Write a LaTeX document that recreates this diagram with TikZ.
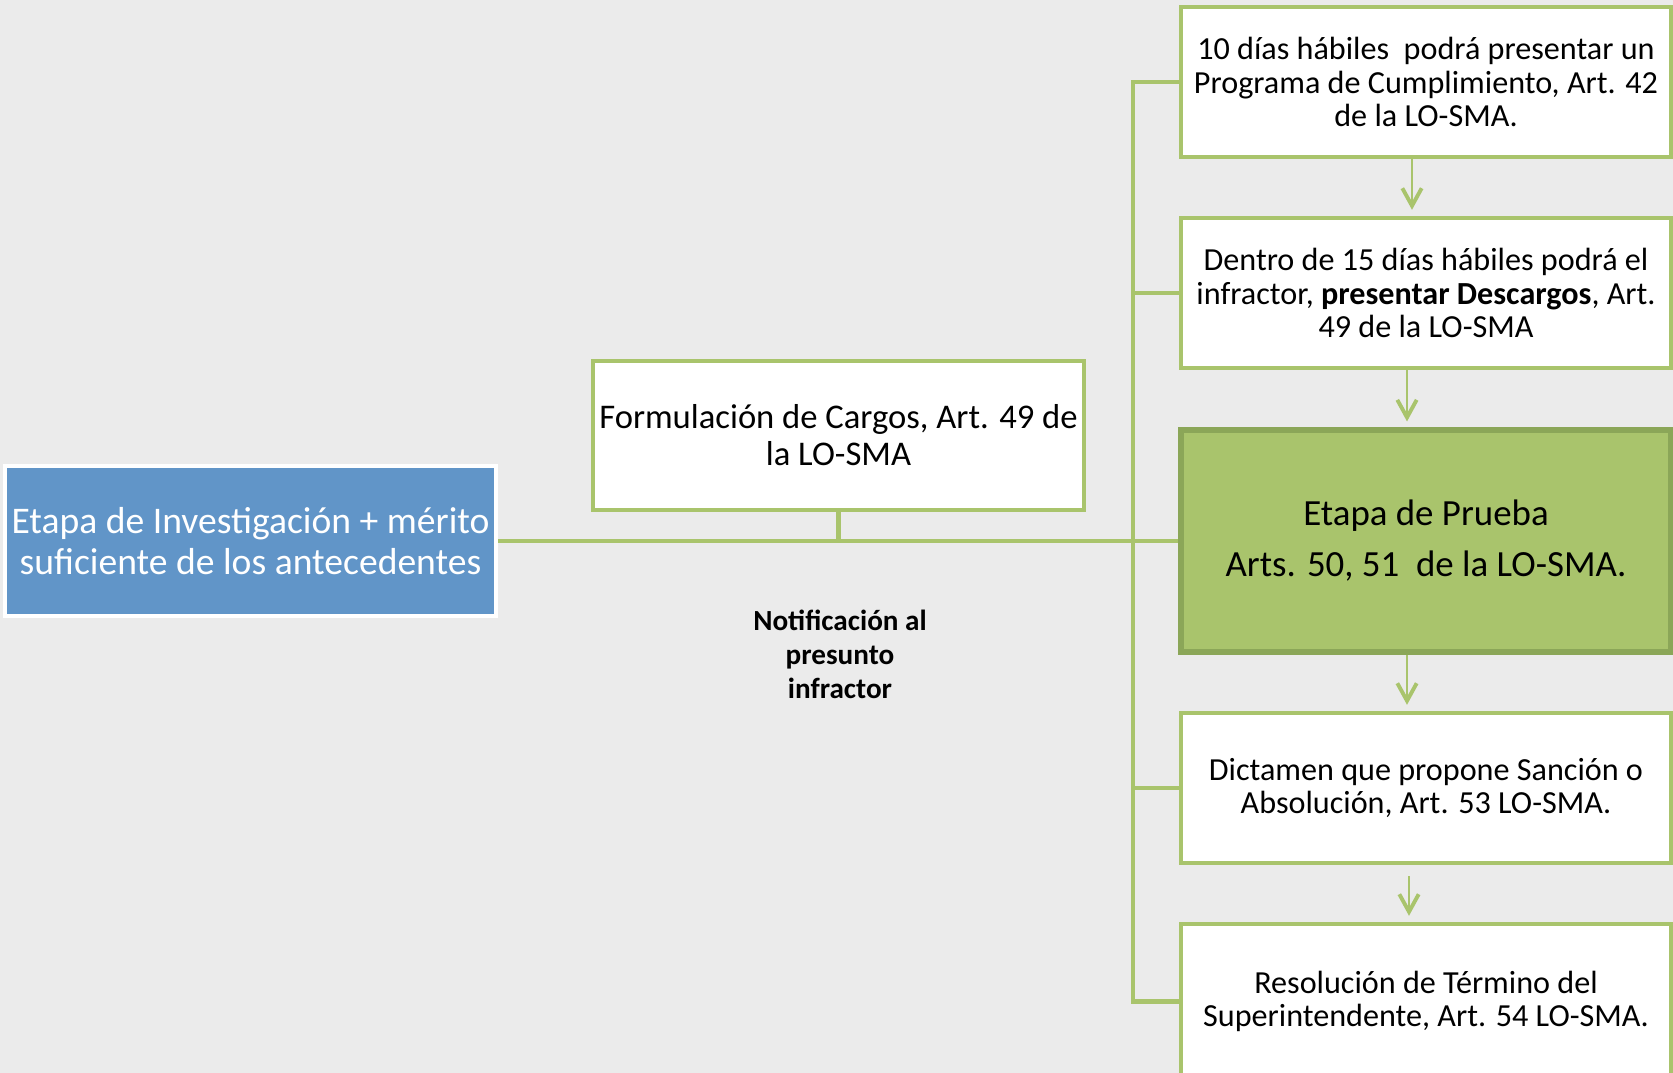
\documentclass[tikz,border=0pt]{standalone}
\usepackage{fontspec}
\setmainfont{Carlito}
\usetikzlibrary{arrows.meta}
\definecolor{bgGray}{HTML}{EBEBEB}
\definecolor{lineGreen}{HTML}{A9C46C}
\definecolor{darkGreen}{HTML}{8BA658}
\definecolor{stageBlue}{HTML}{6195C8}

\begin{document}
\begin{tikzpicture}
\tikzstyle{every node}+=[inner sep=0pt, align=center]
\tikzstyle{stepbox}=[draw=lineGreen, line width=2.5pt, fill=white, minimum width=9.8cm, minimum height=3cm, font=\fontsize{18.3}{19}\selectfont]
\tikzstyle{link}=[draw=lineGreen, line width=2.5pt]
\tikzstyle{flow}=[draw=lineGreen, line width=1.3pt, shorten >=0.12cm, -{Straight Barb[length=10pt,width=11pt,line width=2.2pt]}]
\fill [bgGray] (0,0) rectangle (33.46,-21.46);
\useasboundingbox (0,0) rectangle (33.46,-21.46);
\node [draw=white, line width=2.3pt, fill=stageBlue, text=white, minimum width=9.82cm, minimum height=3cm, font=\fontsize{21.4}{23}\selectfont] (inv) at (5.01,-10.82) {Etapa de Investigación + mérito\\suficiente de los antecedentes};
\node [stepbox, minimum width=9.82cm, minimum height=2.98cm, font=\fontsize{19.7}{21}\selectfont] (cargos) at (16.77,-8.71) {Formulación de Cargos, Art. 49 de\\la LO-SMA};
\node [font=\bfseries\fontsize{16.6}{19.4}\selectfont] (notif) at (16.8,-13.08) {Notificación al\\presunto\\infractor};
\node [stepbox] (prog) at (28.52,-1.64) {10 días hábiles \ podrá presentar un\\Programa de Cumplimiento, Art. 42\\de la LO-SMA.};
\node [stepbox] (desc) at (28.52,-5.86) {Dentro de 15 días hábiles podrá el\\infractor, \textbf{presentar Descargos}, Art.\\49 de la LO-SMA};
\node [stepbox, draw=darkGreen, line width=2.9pt, fill=lineGreen, minimum height=4.44cm, font=\fontsize{21}{23}\selectfont] (prueba) at (28.52,-10.82) {Etapa de Prueba\\[6pt]Arts. 50, 51 \ de la LO-SMA.};
\node [stepbox] (dict) at (28.52,-15.76) {Dictamen que propone Sanción o\\Absolución, Art. 53 LO-SMA.};
\node [stepbox, minimum height=3.1cm] (resol) at (28.52,-20.03) {Resolución de Término del\\Superintendente, Art. 54 LO-SMA.};
\coordinate (bus) at (22.66,0);
% main line and branches
\draw [link] (inv.east) -- (prueba.west);
\draw [link] (cargos.south) -- (cargos.south |- inv.east);
\draw [link] (prog.west) -- (prog.west -| bus) -- (resol.west -| bus) -- (resol.west);
\draw [link] (desc.west) -- (desc.west -| bus);
\draw [link] (dict.west) -- (dict.west -| bus);
% arrows down the right column
\draw [flow] ([xshift=-0.28cm]prog.south) -- ([xshift=-0.28cm]desc.north);
\draw [flow] ([xshift=-0.38cm]desc.south) -- ([xshift=-0.38cm]prueba.north);
\draw [flow] ([xshift=-0.38cm]prueba.south) -- ([xshift=-0.38cm]dict.north);
\draw [flow] ([xshift=-0.34cm,yshift=-0.22cm]dict.south) -- ([xshift=-0.34cm]resol.north);
\end{tikzpicture}
\end{document}
